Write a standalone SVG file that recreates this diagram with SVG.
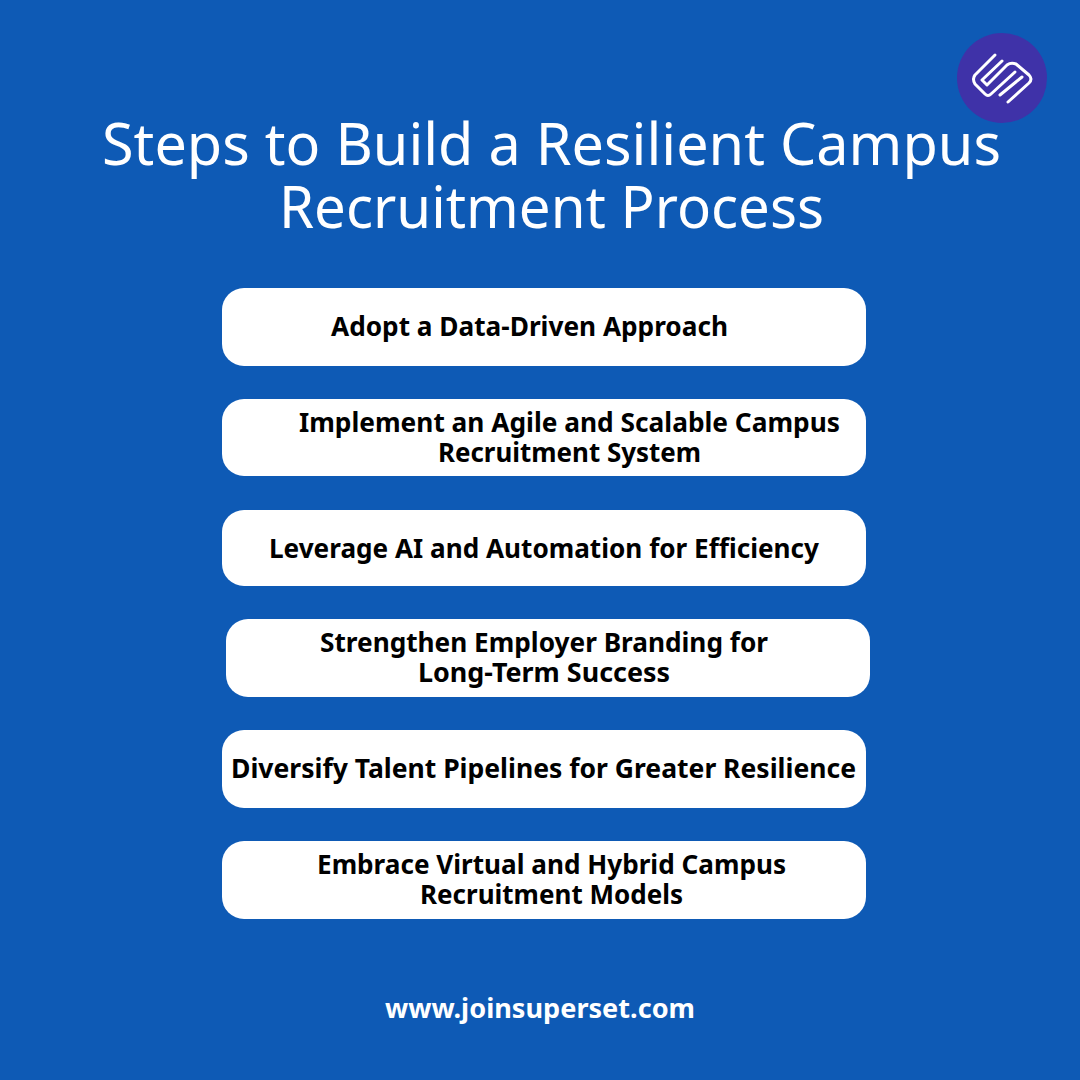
<svg xmlns="http://www.w3.org/2000/svg" width="1080" height="1080" viewBox="0 0 1080 1080">
<style>
.box{fill:#fff}
.t{font-family:"Noto Sans","Open Sans",sans-serif;font-weight:700;font-size:27px;fill:#000;text-anchor:middle}
.h{font-family:"Noto Sans","Open Sans",sans-serif;font-size:58px;fill:#fff;text-anchor:middle}
.u{font-family:"Noto Sans","Open Sans",sans-serif;font-weight:700;font-size:27px;fill:#fff;text-anchor:middle}
</style>
<rect width="1080" height="1080" fill="#0e5ab5"/>
<g id="logo"><circle cx="1002" cy="78" r="45" fill="#3f32a8"/>
<g fill="none" stroke="#fff" stroke-width="3" stroke-linecap="round" stroke-linejoin="round">
<path d="M995 55L975 75Q972 79 975 84L985 94Q988 97 991 94L1015 72"/>
<path d="M1002 61L982 80L987 85L1007 65Q1011 62 1016 64L1029 75Q1033 79 1029 83L1008 102"/>
<path d="M1000 95L1022 77"/></g></g>
<g id="title"><text class="h" x="551.5" y="165" textLength="899" lengthAdjust="spacingAndGlyphs">Steps to Build a Resilient Campus</text><text class="h" x="551.5" y="228" textLength="545" lengthAdjust="spacingAndGlyphs">Recruitment Process</text></g>
<g id="n1"><rect class="box" x="222" y="288" width="644" height="78" rx="22"/><text class="t" x="529.5" y="336" textLength="397" lengthAdjust="spacingAndGlyphs">Adopt a Data-Driven Approach</text></g>
<g id="n2"><rect class="box" x="222" y="399" width="644" height="77" rx="22"/><text class="t" x="569.5" y="432" textLength="541" lengthAdjust="spacingAndGlyphs">Implement an Agile and Scalable Campus</text><text class="t" x="569.5" y="462" textLength="263" lengthAdjust="spacingAndGlyphs">Recruitment System</text></g>
<g id="n3"><rect class="box" x="222" y="510" width="644" height="76" rx="22"/><text class="t" x="544" y="558" textLength="550" lengthAdjust="spacingAndGlyphs">Leverage AI and Automation for Efficiency</text></g>
<g id="n4"><rect class="box" x="226" y="619" width="644" height="78" rx="22"/><text class="t" x="544" y="652" textLength="448" lengthAdjust="spacingAndGlyphs">Strengthen Employer Branding for</text><text class="t" x="544" y="682" textLength="252" lengthAdjust="spacingAndGlyphs">Long-Term Success</text></g>
<g id="n5"><rect class="box" x="222" y="730" width="644" height="78" rx="22"/><text class="t" x="543.5" y="778" textLength="625" lengthAdjust="spacingAndGlyphs">Diversify Talent Pipelines for Greater Resilience</text></g>
<g id="n6"><rect class="box" x="222" y="841" width="644" height="78" rx="22"/><text class="t" x="551.5" y="874" textLength="469" lengthAdjust="spacingAndGlyphs">Embrace Virtual and Hybrid Campus</text><text class="t" x="551.5" y="904" textLength="263" lengthAdjust="spacingAndGlyphs">Recruitment Models</text></g>
<g id="url"><text class="u" x="540" y="1018" textLength="310" lengthAdjust="spacingAndGlyphs">www.joinsuperset.com</text></g>
<g id="connectors"/>
</svg>
